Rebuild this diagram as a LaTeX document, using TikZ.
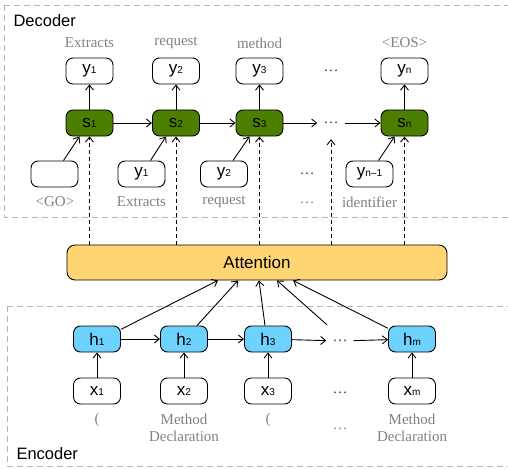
\documentclass[tikz,border=0pt]{standalone}
\usepackage{fontspec}
\setmainfont{Liberation Serif}
\setsansfont{Liberation Sans}
\definecolor{decgreen}{RGB}{76,127,0}
\definecolor{encblue}{RGB}{110,210,255}
\definecolor{attorange}{RGB}{255,213,115}
\definecolor{framegray}{RGB}{180,180,180}
\definecolor{wordgray}{RGB}{128,128,128}
\usetikzlibrary{arrows.meta,positioning,calc}

\tikzset{
    cell/.style={draw, rounded corners=7pt, minimum width=47pt, minimum height=26pt, inner sep=0pt,
        line width=0.9pt, font=\sffamily\fontsize{17}{17}\selectfont},
    decnode/.style={cell, fill=decgreen},
    encnode/.style={cell, fill=encblue},
    word/.style={font=\fontsize{15}{17}\selectfont, text=wordgray, align=center, inner sep=0pt},
    gap/.style={font=\fontsize{15}{17}\selectfont, text=black!75, minimum width=27pt, minimum height=32pt, inner sep=0pt},
    arr/.style={-{Straight Barb[length=5pt,width=8pt]}, line width=0.9pt},
    darr/.style={arr, dash pattern=on 4pt off 3pt},
    frame/.style={draw=framegray, line width=0.9pt, dash pattern=on 6pt off 4pt},
    title/.style={anchor=base west, font=\sffamily\fontsize{16.5}{16.5}\selectfont}
}
\newcommand{\sbs}[1]{{\fontsize{10}{10}\selectfont #1}}

\begin{document}
\begin{tikzpicture}[x=1pt, y=-1pt]
    \useasboundingbox (0,0) rectangle (508,468);
    \clip (0,0) rectangle (508,468);
    % dashed frames
    \draw[frame] (4,5) rectangle (530,217);
    \draw[frame] (7,306) rectangle (530,466);
    \node[title] (declabel) at (10,27) {Decoder};
    \node[title] (enclabel) at (13,459) {Encoder};

    % decoder
    \foreach \i/\x/\w in {1/89.5/Extracts, 2/176/request, 3/259.5/method, n/404.5/{<EOS>}} {
        \node[decnode] (s\i) at (\x,123) {s\sbs{\i}};
        \node[cell] (y\i) at (\x,71) {y\sbs{\i}};
        \node[word] (w\i) at (\x,43) {\w};
        \draw[arr] (s\i) -- (y\i);
    }
    \node[gap] (sdots) at (331,123) {\ldots};
    \node[gap] (ydots) at (331,71) {\ldots};
    \draw[arr] (s1) -- (s2);
    \draw[arr] (s2) -- (s3);
    \draw[arr] (s3) -- (sdots);
    \draw[arr] (sdots) -- (sn);

    \node[cell] (go) at (54.5,174) {};
    \node[cell] (in1) at (141.5,174) {y\sbs{1}};
    \node[cell] (in2) at (224,174) {y\sbs{2}};
    \node[cell] (inn) at (369.5,174) {y\sbs{n–1}};
    \node[gap] (indots) at (307,174) {\ldots};
    \node[word] (wgo) at (55,202) {<GO>};
    \node[word] (win1) at (141.5,202) {Extracts};
    \node[word] (win2) at (224,202) {request};
    \node[word] (winn) at (369.5,202) {identifier};
    \node[word] (wdots) at (307,203) {\ldots};
    \draw[arr] ([xshift=9pt]go.north) -- ([xshift=-10pt]s1.south);
    \draw[arr] ([xshift=9pt]in1.north) -- ([xshift=-10pt]s2.south);
    \draw[arr] ([xshift=9pt]in2.north) -- ([xshift=-10pt]s3.south);
    \draw[arr] ([xshift=9pt]inn.north) -- ([xshift=-10pt]sn.south);

    % attention
    \node[cell, fill=attorange, minimum width=380pt, minimum height=35pt, rounded corners=8pt] (att) at (257,262.5) {Attention};
    \foreach \n in {s1,s2,s3,sdots,sn}
        \draw[darr] (att.north -| \n.south) -- (\n.south);

    % encoder
    \foreach \i/\x/\w/\wy in {1/97/(/420, 2/184/{Method\\Declaration}/428, 3/268/(/420, m/412/{Method\\Declaration}/428} {
        \node[encnode] (h\i) at (\x,339) {h\sbs{\i}};
        \node[cell] (x\i) at (\x,391) {x\sbs{\i}};
        \node[word] (v\i) at (\x,\wy) {\w};
        \draw[arr] (x\i) -- (h\i);
    }
    \node[gap] (hdots) at (340,341) {\ldots};
    \node[gap] (xdots) at (340,393) {\ldots};
    \node[word] (vdots) at (340,429) {\ldots};
    \draw[arr] (h1) -- (h2);
    \draw[arr] (h2) -- (h3);
    \draw[arr] (h3) -- (hdots);
    \draw[arr] (hdots) -- (hm);

    \draw[arr] (h1.22) -- ([xshift=-39pt]att.south);
    \draw[arr] ([xshift=13pt]h2.north) -- ([xshift=-19pt]att.south);
    \draw[arr] ([xshift=-3pt]h3.north) -- ([xshift=2pt]att.south);
    \draw[arr] ([xshift=-13pt]hdots.north) -- ([xshift=20pt]att.south);
    \draw[arr] (hm.156) -- ([xshift=36pt]att.south);
\end{tikzpicture}
\end{document}
